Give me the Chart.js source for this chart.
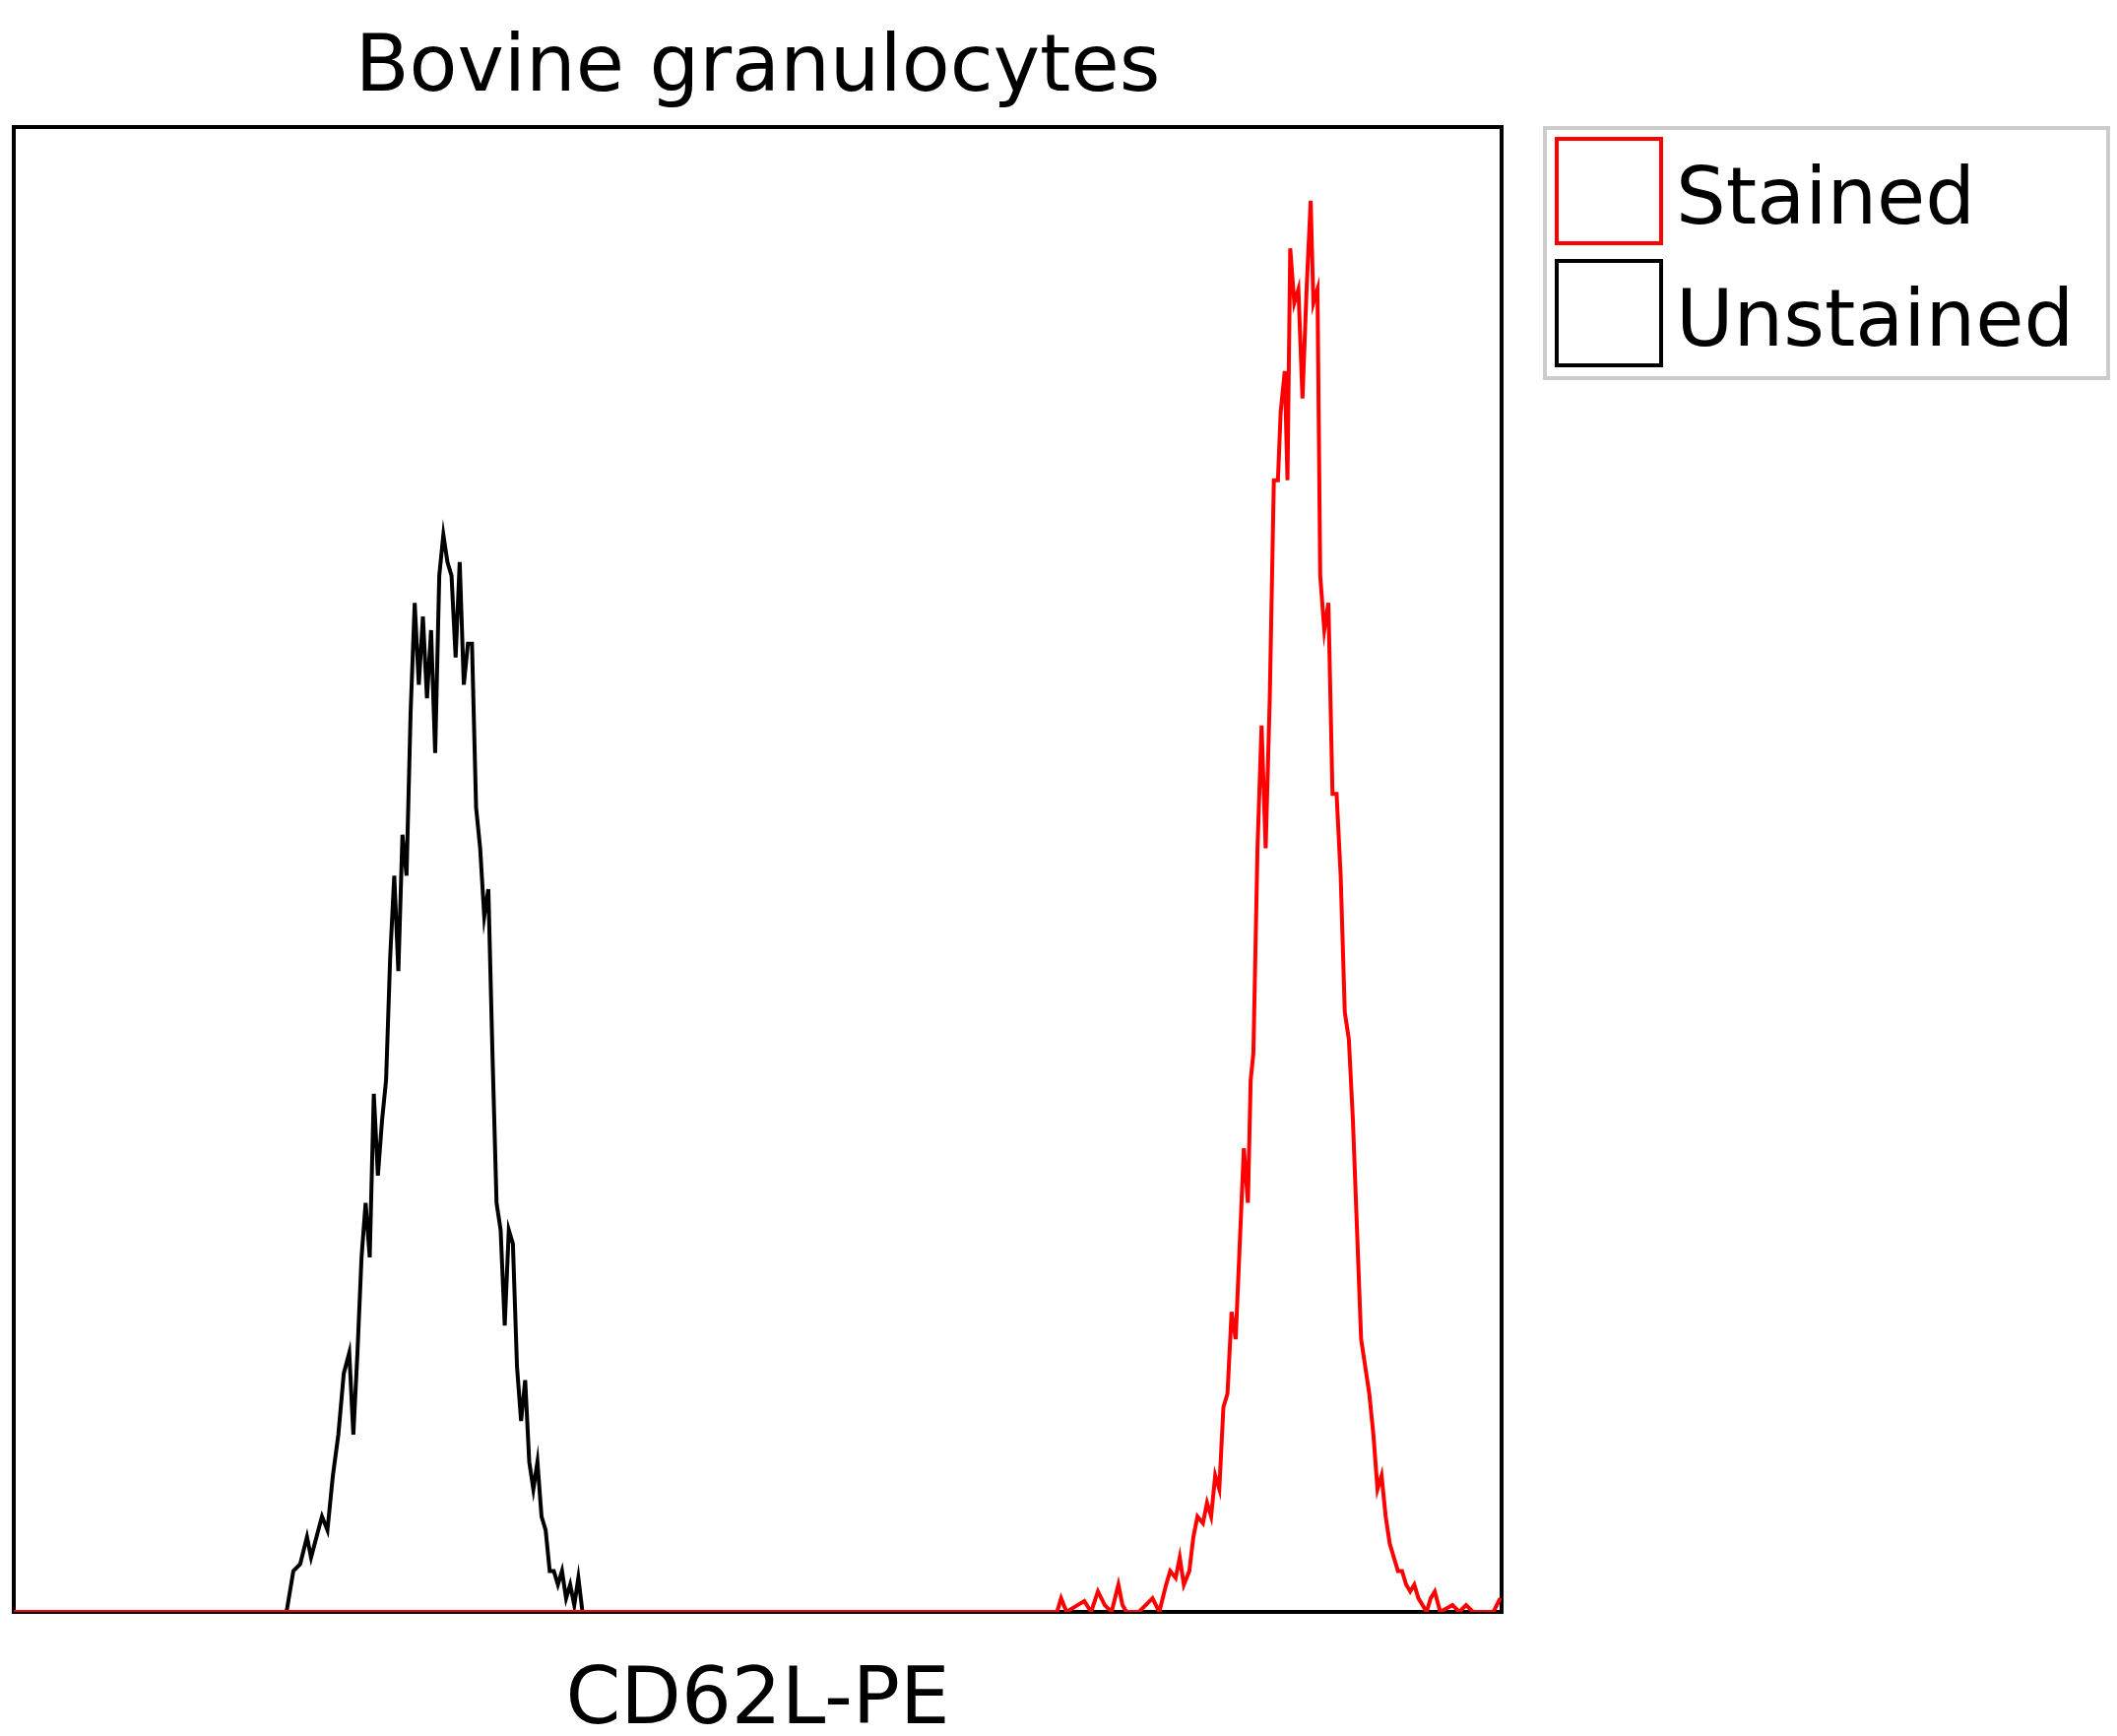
<!DOCTYPE html>
<html>
<head>
<meta charset="utf-8">
<script src="https://cdn.jsdelivr.net/npm/chart.js@4"></script>
<style>
  body { margin: 0; background: #fff; }
  canvas { display: block; }
</style>
</head>
<body>
<canvas id="histChart" width="2150" height="1763"></canvas>
<script>
// Channel positions and event counts (relative height)
const unstainedX = [10, 210, 215, 220, 225, 228, 232, 236, 240, 244, 248, 252, 256, 259, 262, 265, 268, 271, 274, 277, 280, 283, 286, 289, 292, 295, 298, 301, 304, 307, 310, 313, 316, 319, 322, 325, 328, 331, 334, 337, 340, 343, 346, 349, 352, 355, 358, 361, 364, 367, 370, 373, 376, 379, 382, 385, 388, 391, 394, 397, 400, 403, 406, 409, 412, 415, 418, 421, 424, 427, 1101];
const unstainedY = [0, 0, 30, 35, 55, 40, 55, 70, 60, 100, 130, 175, 190, 130, 190, 260, 300, 260, 380, 320, 360, 390, 480, 540, 470, 570, 540, 660, 740, 680, 730, 670, 720, 630, 760, 790, 770, 760, 700, 770, 680, 710, 710, 590, 560, 510, 530, 410, 300, 280, 210, 280, 270, 180, 140, 170, 110, 90, 110, 70, 60, 30, 30, 20, 30, 10, 20, 5, 25, 0, 0];

const stainedX = [10, 775, 778, 782, 790, 795, 800, 805, 810, 815, 820, 823, 826, 835, 840, 845, 850, 855, 858, 862, 865, 868, 872, 875, 878, 882, 885, 888, 891, 894, 897, 900, 903, 906, 909, 912, 915, 917, 919, 922, 925, 928, 931, 934, 937, 939, 942, 944, 946, 949, 952, 955, 958, 961, 963, 966, 968, 971, 974, 977, 980, 983, 986, 989, 992, 995, 998, 1001, 1004, 1007, 1010, 1013, 1016, 1019, 1022, 1025, 1028, 1031, 1034, 1037, 1040, 1043, 1046, 1049, 1052, 1056, 1065, 1070, 1075, 1080, 1090, 1095, 1100];
const stainedY = [0, 0, 10, 0, 5, 8, 0, 15, 5, 0, 20, 5, 0, 0, 5, 10, 0, 20, 30, 25, 40, 20, 30, 55, 70, 65, 80, 70, 100, 90, 150, 160, 220, 200, 270, 340, 300, 390, 410, 560, 650, 560, 670, 830, 830, 880, 910, 830, 1000, 960, 970, 890, 970, 1035, 960, 970, 760, 720, 740, 600, 600, 540, 440, 420, 360, 280, 200, 180, 160, 130, 90, 100, 70, 50, 40, 30, 30, 20, 15, 20, 10, 5, 0, 10, 15, 0, 5, 0, 5, 0, 0, 0, 10];

const toPoints = (xs, ys) => xs.map((x, i) => ({ x: x, y: ys[i] }));

const overlay = {
    id: "overlay",
    beforeDatasetsDraw(chart) {
        const { ctx, chartArea: a } = chart;
        ctx.save();
        ctx.strokeStyle = "#000";
        ctx.lineWidth = 4;
        ctx.strokeRect(a.left, a.top, a.right - a.left, a.bottom - a.top);
        ctx.restore();
    },
    afterDraw(chart) {
        const { ctx, chartArea: a } = chart;
        ctx.save();
        ctx.fillStyle = "#000";
        ctx.font = "80px 'DejaVu Sans'";
        ctx.textAlign = "center";
        ctx.textBaseline = "alphabetic";
        ctx.fillText("Bovine granulocytes", (a.left + a.right) / 2, 92);
        ctx.fillText("CD62L-PE", (a.left + a.right) / 2, 1750);
        // legend
        ctx.strokeStyle = "#cccccc";
        ctx.lineWidth = 4;
        ctx.strokeRect(1569, 130, 572, 254);
        ctx.lineWidth = 4;
        ctx.strokeStyle = "#ff0000";
        ctx.strokeRect(1581, 141, 106, 106);
        ctx.strokeStyle = "#000";
        ctx.strokeRect(1581, 265, 106, 106);
        ctx.textAlign = "left";
        ctx.font = "80px 'DejaVu Sans'";
        ctx.fillText("Stained", 1702, 227);
        ctx.fillText("Unstained", 1702, 351);
        ctx.restore();
    }
};

const ctx = document.getElementById("histChart").getContext("2d");
new Chart(ctx, {
    type: "line",
    data: {
        datasets: [
            {
                label: "Stained",
                data: toPoints(stainedX, stainedY),
                borderColor: "#ff0000",
                borderWidth: 4,
                pointRadius: 0,
                tension: 0,
                fill: false,
            },
            {
                label: "Unstained",
                data: toPoints(unstainedX, unstainedY),
                borderColor: "#000000",
                borderWidth: 4,
                pointRadius: 0,
                tension: 0,
                fill: false,
            },
        ],
    },
    options: {
        responsive: false,
        animation: false,
        layout: { padding: { left: 14, right: 625, top: 129, bottom: 126 } },
        scales: {
            x: { type: "linear", min: 10, max: 1101, display: false },
            y: { min: 0, max: 1089, display: false },
        },
        plugins: {
            legend: { display: false },
            tooltip: { enabled: false },
        },
    },
    plugins: [overlay],
});
</script>
</body>
</html>
